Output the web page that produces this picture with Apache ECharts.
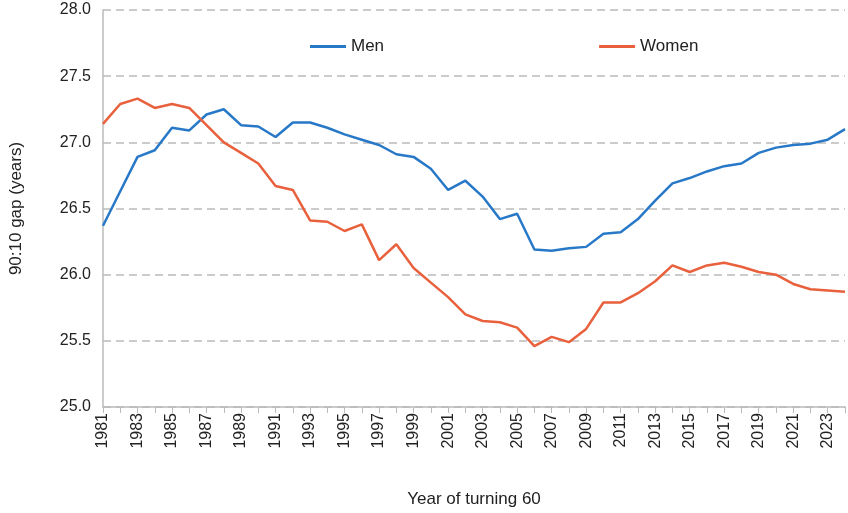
<!DOCTYPE html>
<html>
<head>
<meta charset="utf-8">
<script src="https://cdn.jsdelivr.net/npm/echarts@6/dist/echarts.min.js"></script>
<style>html,body{margin:0;padding:0;background:#fff}#chart{width:848px;height:513px}</style>
</head>
<body>
<div id="chart"></div>
<script>
const years = [];
for (let y = 1981; y <= 2024; y++) years.push(String(y));

const men = [26.37, 26.63, 26.89, 26.94, 27.11, 27.09, 27.21, 27.25, 27.13, 27.12,
    27.04, 27.15, 27.15, 27.11, 27.06, 27.02, 26.98, 26.91, 26.89, 26.80,
    26.64, 26.71, 26.59, 26.42, 26.46, 26.19, 26.18, 26.20, 26.21, 26.31,
    26.32, 26.42, 26.56, 26.69, 26.73, 26.78, 26.82, 26.84, 26.92, 26.96,
    26.98, 26.99, 27.02, 27.10];
const women = [27.14, 27.29, 27.33, 27.26, 27.29, 27.26, 27.13, 27.00, 26.92, 26.84,
    26.67, 26.64, 26.41, 26.40, 26.33, 26.38, 26.11, 26.23, 26.05, 25.94,
    25.83, 25.70, 25.65, 25.64, 25.60, 25.46, 25.53, 25.49, 25.59, 25.79,
    25.79, 25.86, 25.95, 26.07, 26.02, 26.07, 26.09, 26.06, 26.02, 26.00,
    25.93, 25.89, 25.88, 25.87];

let chart = echarts.init(document.getElementById("chart"));
const font = "Liberation Sans, Arial, sans-serif";

chart.setOption({
    animation: false,
    textStyle: { fontFamily: font },
    legend: {
        top: 33, left: 305, itemGap: 215, itemWidth: 36, itemHeight: 3,
        icon: "rect",
        textStyle: { fontSize: 17, color: "#222", fontFamily: font },
        data: ["Men", "Women"]
    },
    grid: { left: 100, right: 3, top: 10, bottom: 99 },
    xAxis: {
        type: "category", data: years, boundaryGap: false,
        name: "Year of turning 60", nameLocation: "middle", nameGap: 84,
        nameTextStyle: { fontSize: 17, color: "#222" },
        axisLine: { lineStyle: { color: "#bbb", width: 1.5 } },
        axisTick: { show: true, interval: 0, length: 6, lineStyle: { color: "#bbb" } },
        axisLabel: { interval: 1, rotate: 90, fontSize: 16, color: "#222", margin: 6 }
    },
    yAxis: {
        type: "value", min: 25, max: 28, interval: 0.5,
        name: "90:10 gap (years)", nameLocation: "middle", nameGap: 78,
        nameTextStyle: { fontSize: 17, color: "#222" },
        axisLine: { show: true, lineStyle: { color: "#bbb", width: 1.5 } },
        axisTick: { show: false },
        axisLabel: { fontSize: 16, color: "#222", margin: 12, formatter: v => v.toFixed(1) },
        splitLine: { lineStyle: { color: "#bbb", type: [8, 5], width: 1.5 } }
    },
    series: [
        { name: "Men", type: "line", data: men, showSymbol: false,
          lineStyle: { color: "#2878c8", width: 2.5 }, itemStyle: { color: "#2878c8" } },
        { name: "Women", type: "line", data: women, showSymbol: false,
          lineStyle: { color: "#e8603c", width: 2.5 }, itemStyle: { color: "#e8603c" } }
    ]
});
</script>
</body>
</html>
